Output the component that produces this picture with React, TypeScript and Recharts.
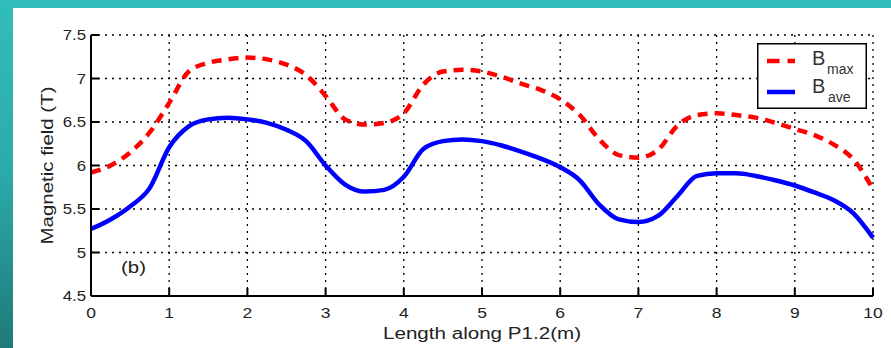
import { LineChart, Line, XAxis, YAxis, CartesianGrid, Legend } from "recharts";

const lengths = [
  0, 0.25, 0.5, 0.75, 1, 1.25, 1.5, 1.75, 2, 2.25, 2.5, 2.75, 3, 3.25, 3.5, 3.75, 4, 4.25, 4.5, 4.75, 5,
  5.25, 5.5, 5.75, 6, 6.25, 6.5, 6.75, 7, 7.25, 7.5, 7.75, 8, 8.25, 8.5, 8.75, 9, 9.25, 9.5, 9.75, 10,
];
const bMax = [
  5.92, 6.0, 6.15, 6.38, 6.72, 7.08, 7.18, 7.22, 7.24, 7.22, 7.16, 7.04, 6.8, 6.53, 6.47, 6.49, 6.6, 6.93,
  7.08, 7.1, 7.08, 7.02, 6.94, 6.87, 6.76, 6.58, 6.3, 6.12, 6.09, 6.18, 6.46, 6.58, 6.6, 6.58, 6.55, 6.49,
  6.42, 6.35, 6.24, 6.07, 5.73,
];
const bAve = [
  5.27, 5.38, 5.53, 5.74, 6.21, 6.45, 6.53, 6.55, 6.53, 6.49, 6.41, 6.28, 6.0, 5.78, 5.7, 5.72, 5.87, 6.19,
  6.28, 6.3, 6.28, 6.23, 6.16, 6.08, 5.98, 5.83, 5.55, 5.38, 5.35, 5.42, 5.65, 5.88, 5.91, 5.91, 5.88, 5.83,
  5.77, 5.69, 5.6, 5.45, 5.17,
];
const xTicks = [0, 1, 2, 3, 4, 5, 6, 7, 8, 9, 10];
const yTicks = [4.5, 5, 5.5, 6, 6.5, 7, 7.5];

const rows = lengths.map((x, i) => ({ x, bMax: bMax[i], bAve: bAve[i] }));

const FONT = '"Liberation Sans", Arial, sans-serif';
const TEXT = "#222";

function XTick({ x, y, payload }: any) {
  return (
    <g transform={`translate(${x},${y}) scale(1.25,1)`}>
      <text textAnchor="middle" y={22} fontSize={14} fill={TEXT} fontFamily={FONT}>
        {payload.value}
      </text>
    </g>
  );
}

function YTick({ x, y, payload }: any) {
  return (
    <g transform={`translate(${x},${y}) scale(1.2,1)`}>
      <text textAnchor="end" y={5} fontSize={14} fill={TEXT} fontFamily={FONT}>
        {payload.value}
      </text>
    </g>
  );
}

const NoTick = () => <g />;

function XTitle({ viewBox }: any) {
  const cx = viewBox.x + viewBox.width / 2;
  return (
    <text x={cx} y={339} textAnchor="middle" fontSize={16} fill={TEXT} fontFamily={FONT}
      textLength={198} lengthAdjust="spacingAndGlyphs">
      Length along P1.2(m)
    </text>
  );
}

function YTitle({ viewBox }: any) {
  const cy = viewBox.y + viewBox.height / 2;
  return (
    <text x={53} y={cy} transform={`rotate(-90, 53, ${cy})`} textAnchor="middle" fontSize={17}
      fill={TEXT} fontFamily={FONT} textLength={158} lengthAdjust="spacingAndGlyphs">
      Magnetic field (T)
    </text>
  );
}

function LegendBox() {
  return (
    <svg width={110} height={66} style={{ display: "block" }}>
      <rect x={0.75} y={0.75} width={108.5} height={64.5} fill="#fff" stroke="#000" strokeWidth={1.5} />
      <line x1={10} x2={38} y1={18} y2={18} stroke="#ff0000" strokeWidth={4.5} strokeDasharray="12.5 8" />
      <text x={55} y={22} fontSize={20} fill="#333" fontFamily={FONT}>B</text>
      <text x={70} y={31} fontSize={14} fill="#333" fontFamily={FONT}>max</text>
      <line x1={10} x2={38} y1={49} y2={49} stroke="#0000ff" strokeWidth={4.5} />
      <text x={55} y={50} fontSize={20} fill="#333" fontFamily={FONT}>B</text>
      <text x={71} y={59} fontSize={14} fill="#333" fontFamily={FONT}>ave</text>
    </svg>
  );
}

export default function App() {
  return (
    <div
      style={{
        position: "fixed",
        left: 0,
        top: 0,
        width: 891,
        height: 348,
        overflow: "hidden",
        background: "linear-gradient(180deg, #31bdbc 0%, #2baaa9 50%, #1f7a78 100%)",
        fontFamily: FONT,
      }}
    >
      <div style={{ position: "absolute", left: 13, top: 8, right: 0, bottom: 0, background: "#fff" }} />
      <div style={{ position: "absolute", left: 0, top: 0 }}>
        <LineChart width={891} height={348} data={rows} margin={{ top: 35, right: 18, left: 0, bottom: 0 }}>
          <CartesianGrid stroke="#000" strokeDasharray="2 5" strokeWidth={1.3} />
          <XAxis
            dataKey="x"
            type="number"
            domain={[0, 10]}
            ticks={xTicks}
            height={52}
            tick={XTick}
            tickSize={-8}
            tickMargin={8}
            axisLine={{ stroke: "#000", strokeWidth: 2 }}
            tickLine={{ stroke: "#000", strokeWidth: 2 }}
            label={{ content: XTitle }}
          />
          <XAxis
            xAxisId="top"
            orientation="top"
            type="number"
            domain={[0, 10]}
            ticks={xTicks}
            height={0}
            tick={NoTick}
            tickSize={-8}
            axisLine={{ stroke: "#000", strokeWidth: 2 }}
            tickLine={{ stroke: "#000", strokeWidth: 2 }}
          />
          <YAxis
            type="number"
            domain={[4.5, 7.5]}
            ticks={yTicks}
            width={91}
            tick={YTick}
            tickSize={-8}
            tickMargin={13}
            axisLine={{ stroke: "#000", strokeWidth: 2 }}
            tickLine={{ stroke: "#000", strokeWidth: 2 }}
            label={{ content: YTitle }}
          />
          <YAxis
            yAxisId="right"
            orientation="right"
            type="number"
            domain={[4.5, 7.5]}
            ticks={yTicks}
            width={0}
            tick={NoTick}
            tickSize={-8}
            axisLine={{ stroke: "#000", strokeWidth: 2 }}
            tickLine={{ stroke: "#000", strokeWidth: 2 }}
          />
          <Legend
            layout="vertical"
            align="center"
            verticalAlign="middle"
            content={LegendBox}
            wrapperStyle={{ position: "absolute", left: 757, top: 43, width: 110, height: 66 }}
          />
          <Line
            type="monotone"
            dataKey="bMax"
            name="Bmax"
            stroke="#ff0000"
            strokeWidth={4.5}
            strokeDasharray="10 7"
            dot={false}
            isAnimationActive={false}
          />
          <Line
            type="monotone"
            dataKey="bAve"
            name="Bave"
            stroke="#0000ff"
            strokeWidth={4.5}
            dot={false}
            isAnimationActive={false}
          />
        </LineChart>
      </div>
      <div
        style={{
          position: "absolute",
          left: 121,
          top: 258,
          fontSize: 17,
          color: TEXT,
          transform: "scaleX(1.2)",
          transformOrigin: "left top",
        }}
      >
        (b)
      </div>
    </div>
  );
}
